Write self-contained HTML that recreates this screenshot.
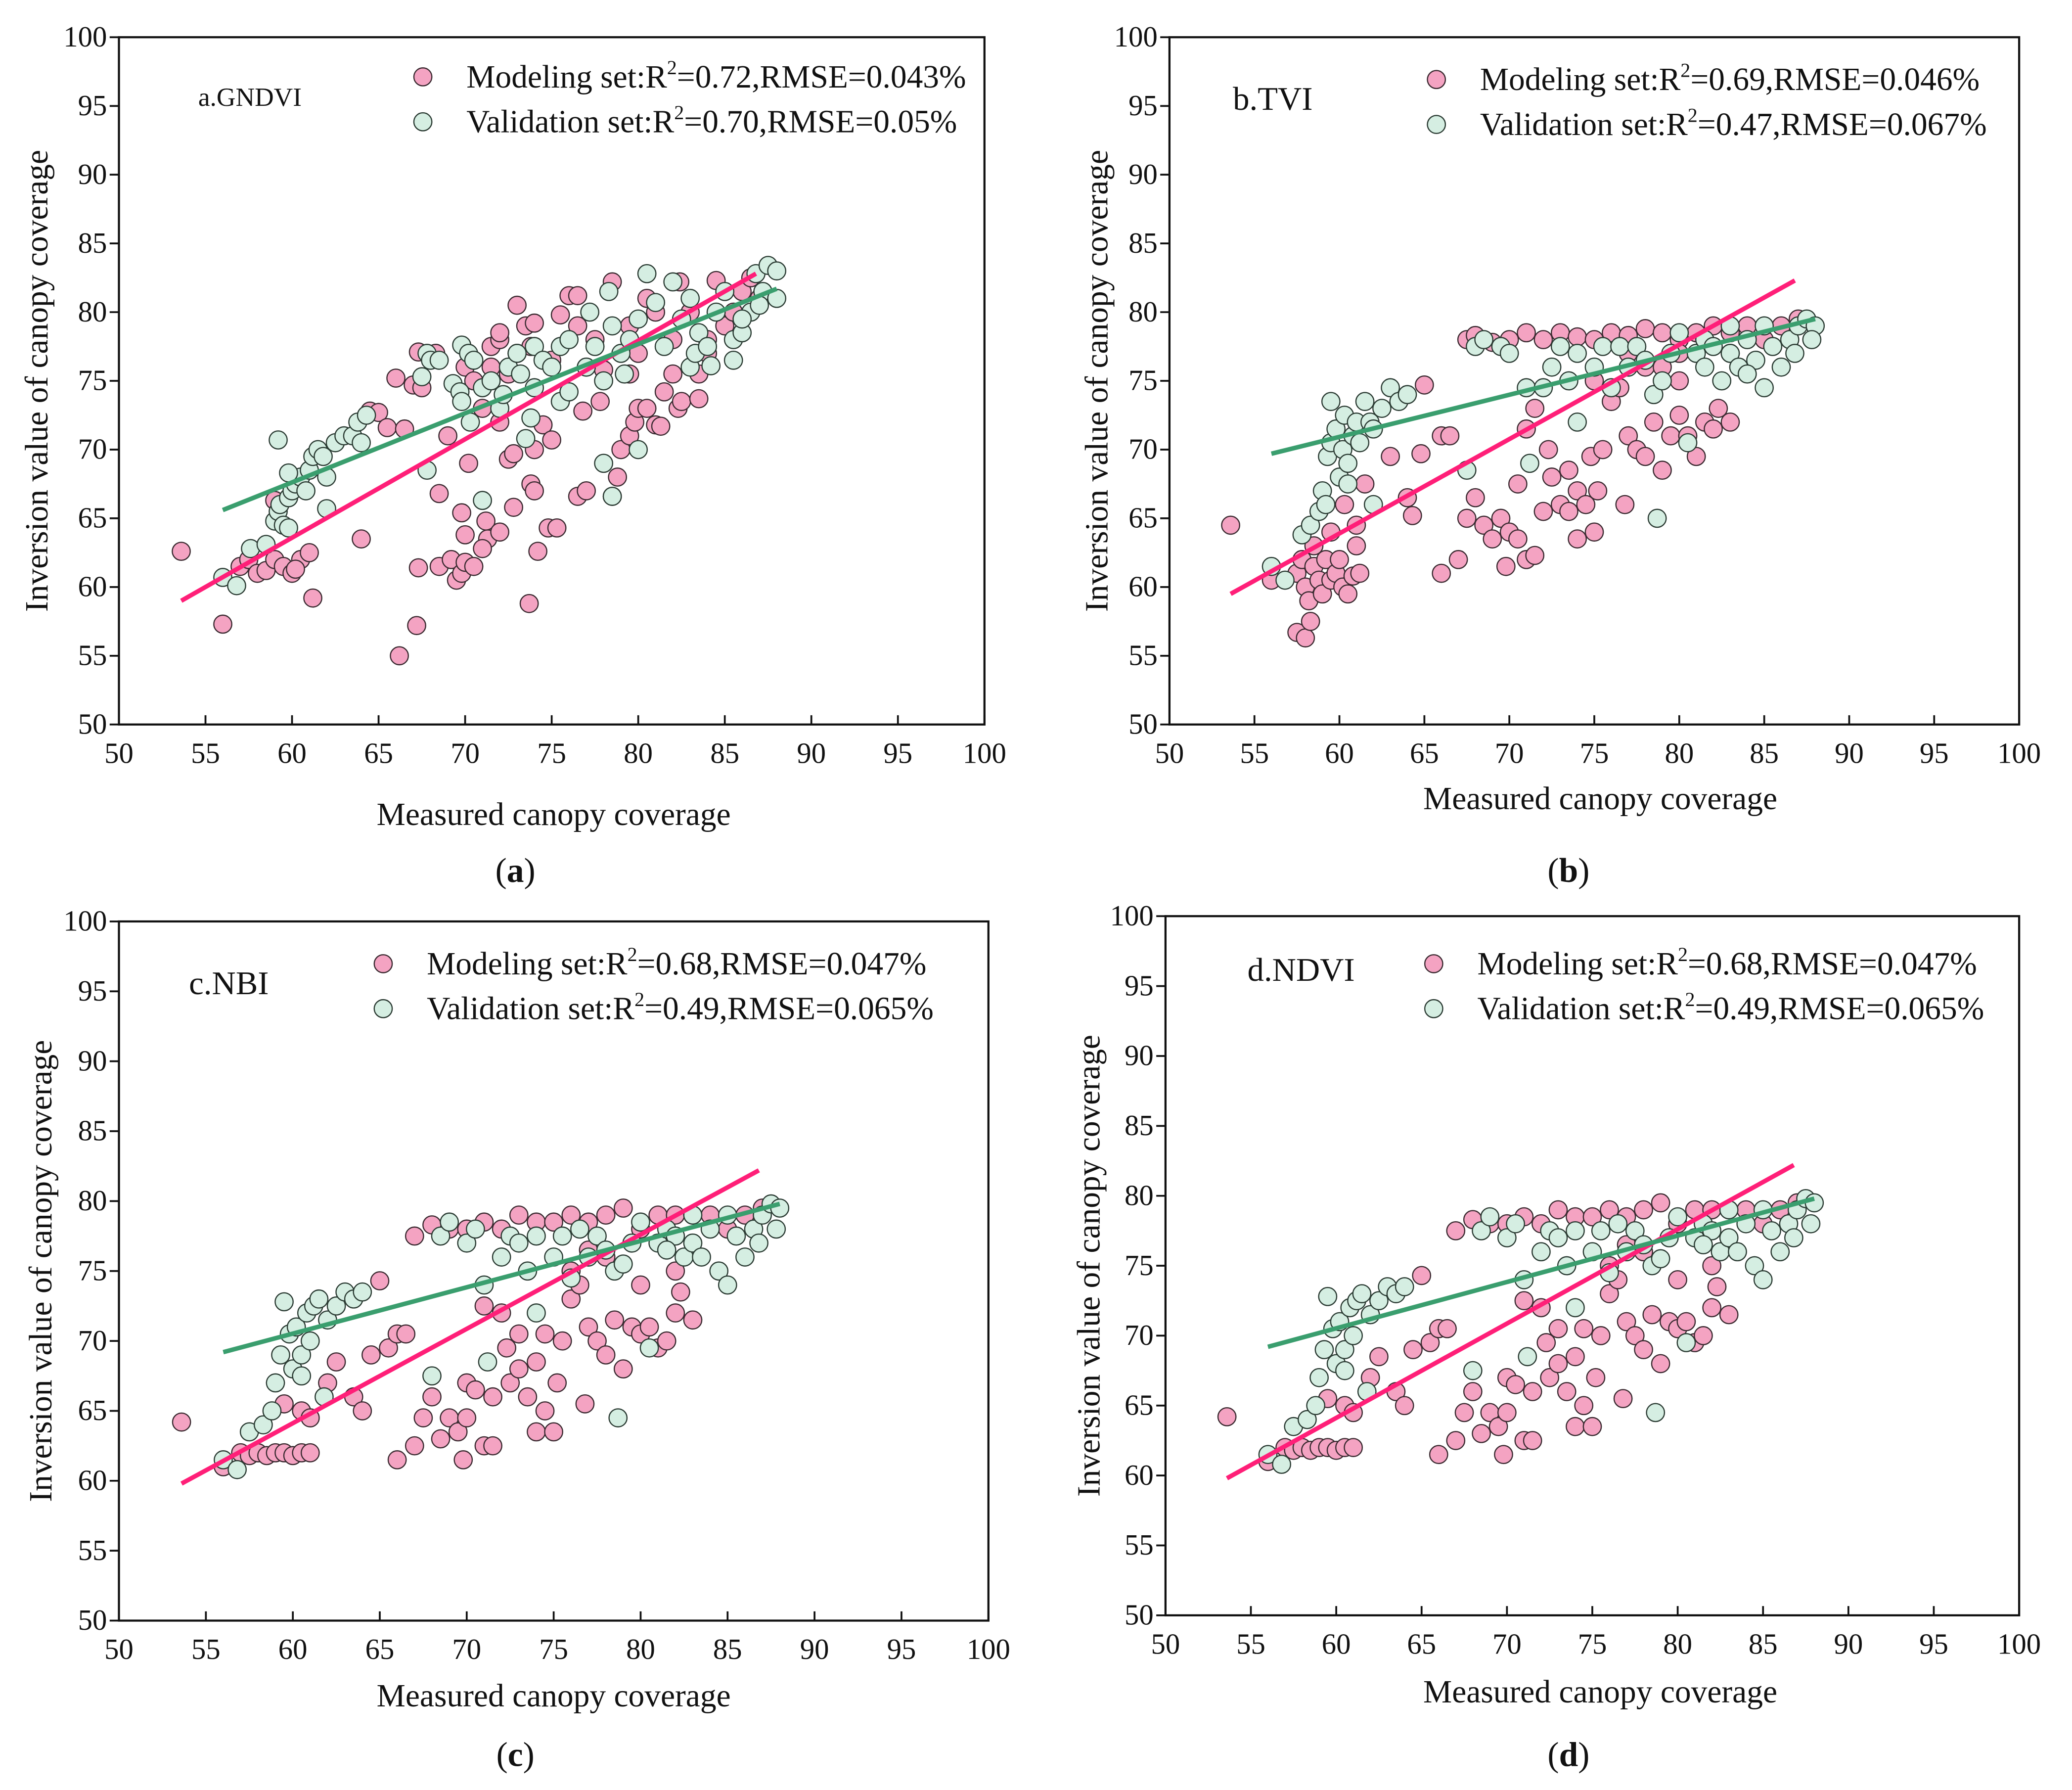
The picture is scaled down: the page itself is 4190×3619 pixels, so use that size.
<!DOCTYPE html>
<html><head><meta charset="utf-8">
<style>
html,body{margin:0;padding:0;background:#fff;}
svg{display:block;}
text{font-family:"Liberation Serif",serif;fill:#111;}
</style></head>
<body>
<svg id="fig" width="4190" height="3619" viewBox="0 0 1568 1354" xmlns="http://www.w3.org/2000/svg"></svg>
<script>
const ticks=[50,55,60,65,70,75,80,85,90,95,100];
const aModel=[[53.6,62.6],[56,57.3],[57,61.5],[57.5,62],[58,61],[58.5,61.2],[59,62],[59.5,61.5],[60,61],[60.5,62],[61,62.5],[61.2,59.2],[60.2,61.3],[59,66.3],[64,63.5],[64.5,72.8],[65,72.7],[65.5,71.6],[66.5,71.5],[66,75.2],[67,74.7],[67.5,74.5],[67.3,77.1],[68.3,77],[68.5,66.8],[67.3,61.4],[66.2,55],[67.2,57.2],[68.5,61.5],[69.2,62],[69.5,60.5],[69.8,61],[70,61.8],[70.5,61.5],[70,63.8],[69.8,65.4],[70.2,69],[69,71],[70,76],[70.5,75],[71,73],[71.2,64.8],[71.3,63.5],[71,62.8],[72,64],[71.5,77.5],[72,78],[72.5,75.5],[72,72],[72.5,69.3],[72.8,69.7],[72.8,65.8],[73,77],[73,80.5],[73.5,79],[73.8,77.5],[74,70],[73.8,67.5],[74,67],[74.2,62.6],[73.7,58.8],[74.5,71.8],[75,70.7],[74.8,64.3],[75.3,64.3],[75,76.5],[75.5,79.8],[76,81.2],[76.5,81.2],[76.5,79],[77,76],[76.8,72.8],[76.5,66.6],[77,67],[77.8,73.5],[78,75.8],[78.5,66.6],[78.8,68],[79,70],[79.5,71],[79.8,72],[80,73],[80.5,73],[79.5,75.5],[80,77],[78.5,82.2],[79.5,79],[81,71.8],[81.3,71.7],[81.5,74.2],[82,75.5],[82.3,73],[82.5,73.5],[83.5,73.7],[82.4,82.2],[83,80],[83.5,75.5],[84,78],[84.5,82.3],[85,79],[85.5,80],[86,81.5],[86.5,82.5],[87,81],[81,80],[82,78],[84,77],[80.5,81],[77.5,78],[74,79.2],[72,78.5],[71.5,76]];
const aValid=[[56,60.7],[56.8,60.1],[57.6,62.8],[58.5,63.1],[59,64.8],[59.2,65.5],[59.3,66],[59.5,64.5],[59.8,64.3],[59.8,66.5],[60,67],[60.2,67.5],[60.5,68],[60.8,67],[61,68.5],[61.2,69.5],[61.5,70],[61.8,69.5],[62,65.7],[62,68],[62.5,70.5],[63,71],[63.5,71],[63.8,72],[64,70.5],[64.3,72.5],[59.2,70.7],[59.8,68.3],[67.5,75.3],[67.8,77],[68,76.5],[68.5,76.5],[67.8,68.5],[69.3,74.8],[69.7,74.2],[69.8,73.5],[69.8,77.6],[70.2,77],[70.5,76.5],[70.3,72],[71,74.5],[71.5,75],[71,66.3],[72,73],[72.2,74],[72.5,76],[73,77],[73.2,75.5],[73.5,70.8],[73.8,72.3],[74,74.5],[74,77.5],[74.5,76.5],[75,76],[75.5,77.5],[75.5,73.5],[76,74.2],[76,78],[77,76],[77.2,80],[77.5,77.5],[78,75],[78.3,81.5],[78.5,79],[79,77],[79.2,75.5],[79.5,78],[80,79.5],[80,70],[78,69],[78.5,66.6],[80.5,82.8],[81,80.7],[81.5,77.5],[82,82.2],[82.5,79.5],[83,76],[83.3,77],[83.5,78.5],[84,77.5],[84.5,80],[85,81.5],[85.5,78],[86,78.5],[86.5,80],[86.8,82.8],[87.2,81.5],[87.5,83.4],[88,83],[88,81],[85.5,76.5],[84.2,76.1],[83,81],[86,79.5],[87,80.5]];
const bModel=[[53.6,64.5],[56,60.5],[57.5,56.7],[58,56.3],[58.3,57.5],[57.5,61],[57.8,62],[58,60],[58.2,59],[58.5,61.5],[58.8,60.5],[59,59.5],[59.2,62],[59.5,60.5],[59.8,61],[60,62],[60.2,60],[60.5,59.5],[60.8,60.8],[61,63],[61.2,61],[61,64.5],[59.5,64],[58.5,63],[60.3,66],[61.5,67.5],[63,69.5],[64,66.5],[64.3,65.2],[64.8,69.7],[65,74.7],[66,71],[66.5,71],[66,61],[67,62],[67.5,65],[68,66.5],[68.5,64.5],[69,63.5],[69.5,65],[69.8,61.5],[70,64],[70.5,63.5],[70.5,67.5],[71,62],[71.5,62.3],[71,71.5],[71.5,73],[72,65.5],[72.3,70],[72.5,68],[73,66],[73.5,65.5],[73.5,68.5],[74,63.5],[74,67],[74.5,66],[74.8,69.5],[75,64],[75.2,67],[75.5,70],[76,73.5],[76.5,74.5],[76.8,66],[77,71],[77.5,70],[78,69.5],[78.5,72],[79,68.5],[79.5,71],[80,72.5],[80.5,71],[81,69.5],[81.5,72],[82,71.5],[82.3,73],[83,72],[67.5,78],[68,78.3],[69,77.8],[70,78],[71,78.5],[72,78],[73,78.5],[74,78.2],[75,78],[76,78.5],[77,78.3],[78,78.8],[79,78.5],[80,78],[81,78.5],[82,79],[83,78.5],[84,79],[78,76],[79,76],[80,75],[77,77],[83,77],[85,78],[86,79],[87,79.5],[75,75],[80,77]];
const bValid=[[56,61.5],[56.8,60.5],[57.8,63.8],[58.3,64.5],[58.8,65.5],[59,67],[59.2,66],[59.3,69.5],[59.5,70.5],[59.5,73.5],[59.8,71.5],[60,68],[60.2,70],[60.3,72.5],[60.5,69],[60.8,71],[61,72],[61.2,70.5],[61.5,73.5],[61.8,72],[62,66],[62,71.5],[62.5,73],[63,74.5],[63.5,73.5],[64,74],[60.5,67.5],[67.5,68.5],[68,77.5],[68.5,78],[69.5,77.5],[70,77],[71,74.5],[71.2,69],[72,74.5],[72.5,76],[73,77.5],[73.5,75],[74,72],[74,77],[75,76],[75.5,77.5],[76,74.5],[76.5,77.5],[77,76],[77.5,77.5],[78,76.5],[78.5,74],[78.7,65],[79,75],[79.5,77],[80,78.5],[80.5,70.5],[81,77],[81.5,78],[82,77.5],[82.5,75],[83,77],[83.5,76],[84,78],[84.5,76.5],[85,74.5],[85.5,77.5],[86,76],[86.5,78],[87,79],[87.5,79.5],[88,79],[87.8,78],[86.8,77],[85,79],[84,75.5],[83,79],[81.5,76]];
const cModel=[[53.6,64.2],[56,61],[57,62],[57.5,61.8],[58,62],[58.5,61.8],[59,62],[59.5,62],[60,61.8],[60.5,62],[61,62],[59.5,65.5],[60.5,65],[61,64.5],[62,67],[62.5,68.5],[63.5,66],[64,65],[64.5,69],[65,74.3],[65.5,69.5],[66,70.5],[66.5,70.5],[66,61.5],[67,62.5],[67.5,64.5],[68,66],[68.5,63],[69,64.5],[69.5,63.5],[69.8,61.5],[70,64.5],[70,67],[70.5,66.5],[71,62.5],[71,72.5],[71.5,62.5],[71.5,66],[72,72],[72.3,69.5],[72.5,67],[73,68],[73,70.5],[73.5,66],[74,63.5],[74,68.5],[74.5,70.5],[74.5,65],[75,63.5],[75.2,67],[75.5,70],[76,73],[76.5,74],[76.8,65.5],[77,71],[77.5,70],[78,69],[78.5,71.5],[79,68],[79.5,71],[80,70.5],[80.5,71],[81,69.5],[81.5,70],[82,72],[82.3,73.5],[83,71.5],[67,77.5],[68,78.3],[69,78],[70,78],[71,78.5],[72,78],[73,79],[74,78.5],[75,78.5],[76,79],[77,78.5],[78,79],[79,79.5],[80,78],[81,79],[82,79],[83,79],[84,79],[78,76],[80,74],[76,75],[82,75],[85,78],[86,79],[87,79.5],[77,76.5]];
const cValid=[[56,61.5],[56.8,60.8],[57.5,63.5],[58.3,64],[58.8,65],[59,67],[59.3,69],[59.5,72.8],[59.8,70.5],[60,68],[60.2,71],[60.5,69],[60.8,72],[61,70],[61.2,72.5],[61.5,73],[61.8,66],[62,71.5],[62.5,72.5],[63,73.5],[63.5,73],[64,73.5],[60.5,67.5],[68,67.5],[68.5,77.5],[69,78.5],[70,77],[70.5,78],[71,74],[71.2,68.5],[72,76],[72.5,77.5],[73,77],[73.5,75],[74,72],[74,77.5],[75,76],[75.5,77.5],[76,74.5],[76.5,78],[77,76],[77.5,77.5],[78,76.5],[78.5,75],[78.7,64.5],[79,75.5],[79.5,77],[80,78.5],[80.5,69.5],[81,77],[81.5,78],[82,77.5],[82.5,76],[83,77],[83.5,76],[84,78],[84.5,75],[85,74],[85.5,77.5],[86,76],[86.5,78],[87,79],[87.5,79.8],[88,79.5],[87.8,78],[86.8,77],[85,79],[83,79],[81.5,76.5]];
const aFitModel=[[53.6,59],[86.8,82.8]], aFitValid=[[56,65.6],[88,81.7]];
const bFitModel=[[53.6,59.5],[86.8,82.3]], bFitValid=[[56,69.7],[88,79.5]];
const cFitModel=[[53.6,59.8],[86.8,82.2]], cFitValid=[[56,69.2],[88,79.8]];
const legendA=["Modeling set:R","=0.72,RMSE=0.043%","Validation set:R","=0.70,RMSE=0.05%"];
const legendB=["Modeling set:R","=0.69,RMSE=0.046%","Validation set:R","=0.47,RMSE=0.067%"];
const legendC=["Modeling set:R","=0.68,RMSE=0.047%","Validation set:R","=0.49,RMSE=0.065%"];

const NS="http://www.w3.org/2000/svg";
const svg=document.getElementById('fig');
function mk(tag,attrs,parent,txt){const e=document.createElementNS(NS,tag);for(const k in attrs)e.setAttribute(k,attrs[k]);if(txt!==undefined)e.textContent=txt;(parent||svg).appendChild(e);return e;}

const panels=[
 {id:'a',x0:90,x1:745,y0:28,y1:548,model:aModel,valid:aValid,fm:aFitModel,fv:aFitValid,leg:legendA,legX:320,legY:65,lab:'a.GNDVI',labX:150,labY:80,labSize:20,xt:[419,624],yt:36,cap:[390,667],capT:'(a)'},
 {id:'b',x0:885,x1:1528,y0:28,y1:548,model:bModel,valid:bValid,fm:bFitModel,fv:bFitValid,leg:legendB,legX:1087,legY:67,lab:'b.TVI',labX:933,labY:83,labSize:25,xt:[1211,612],yt:838,cap:[1187,667],capT:'(b)'},
 {id:'c',x0:90,x1:748,y0:697,y1:1226,model:cModel,valid:cValid,fm:cFitModel,fv:cFitValid,leg:legendC,legX:290,legY:736,lab:'c.NBI',labX:143,labY:752,labSize:25,xt:[419,1291],yt:39,cap:[390,1336],capT:'(c)'},
 {id:'d',x0:882,x1:1528,y0:693,y1:1222,model:cModel,valid:cValid,fm:cFitModel,fv:cFitValid,leg:legendC,legX:1085,legY:736,lab:'d.NDVI',labX:944,labY:742,labSize:25,xt:[1211,1288],yt:832,cap:[1187,1336],capT:'(d)'}
];

panels.forEach(p=>{
 const g=mk('g',{});
 
 
 const sx=v=>p.x0+(v-50)/50*(p.x1-p.x0);
 const sy=v=>p.y1-(v-50)/50*(p.y1-p.y0);
 const frame=mk('rect',{x:p.x0,y:p.y0,width:p.x1-p.x0,height:p.y1-p.y0,fill:'none',stroke:'#111','stroke-width':1.6},g);
 
 
 const xa=mk('g',{},g);
 
 
 const ya=mk('g',{},g);
 
 
 ticks.forEach(t=>{
  mk('line',{x1:sx(t),x2:sx(t),y1:p.y1,y2:p.y1-7,stroke:'#111','stroke-width':1.4},xa);
  const tx=mk('text',{x:sx(t),y:p.y1+29,'font-size':22,'text-anchor':'middle'},xa,String(t));
  
  
  mk('line',{x1:p.x0,x2:p.x0-7,y1:sy(t),y2:sy(t),stroke:'#111','stroke-width':1.4},ya);
  const ty=mk('text',{x:p.x0-9,y:sy(t)+7,'font-size':22,'text-anchor':'end'},ya,String(t));
  
  
 });
 const xt=mk('text',{x:p.xt[0],y:p.xt[1],'font-size':24.5,'text-anchor':'middle'},g,'Measured canopy coverage');
 
 
 const cy=(p.y0+p.y1)/2;
 const yt=mk('text',{x:p.yt,y:cy,'font-size':24.5,'text-anchor':'middle',transform:`rotate(-90 ${p.yt} ${cy})`},g,'Inversion value of canopy coverage');
 
 
 const cap=mk('text',{x:p.cap[0],y:p.cap[1],'font-size':26,'text-anchor':'middle'},g);
 
 
 mk('tspan',{},cap,'(');mk('tspan',{'font-weight':'bold'},cap,p.capT[1]);mk('tspan',{},cap,')');
 const lab=mk('text',{x:p.labX,y:p.labY,'font-size':p.labSize},g,p.lab);
 
 
 const mg=mk('g',{},g);
 
 
 p.model.forEach(d=>{
  const c=mk('circle',{cx:sx(d[0]),cy:sy(d[1]),r:6.8,fill:'#f4a3c2',stroke:'#3a2a30','stroke-width':0.9},mg);
  
  
 });
 const vg=mk('g',{},g);
 
 
 p.valid.forEach(d=>{
  const c=mk('circle',{cx:sx(d[0]),cy:sy(d[1]),r:6.8,fill:'#d5eee2',stroke:'#2a3a32','stroke-width':0.9},vg);
  
  
 });
 const lm=mk('line',{x1:sx(p.fm[0][0]),y1:sy(p.fm[0][1]),x2:sx(p.fm[1][0]),y2:sy(p.fm[1][1]),stroke:'#ff1f78','stroke-width':3.4},g);
 
 
 const lv=mk('line',{x1:sx(p.fv[0][0]),y1:sy(p.fv[0][1]),x2:sx(p.fv[1][0]),y2:sy(p.fv[1][1]),stroke:'#3a9e6e','stroke-width':3.4},g);
 
 
 [[0,'#f4a3c2','#3a2a30'],[1,'#d5eee2','#2a3a32']].forEach(([i,f,s])=>{
  const yy=p.legY+i*34;
  const le=mk('g',{},g);
  
  
  mk('circle',{cx:p.legX,cy:yy-7,r:6.8,fill:f,stroke:s,'stroke-width':0.9},le);
  const t=mk('text',{x:p.legX+33,y:yy+1,'font-size':24.5},le);
  mk('tspan',{},t,p.leg[i*2]);
  mk('tspan',{'font-size':15,dy:-10},t,'2');
  mk('tspan',{dy:10},t,p.leg[i*2+1]);
 });
});
</script>
</body></html>
